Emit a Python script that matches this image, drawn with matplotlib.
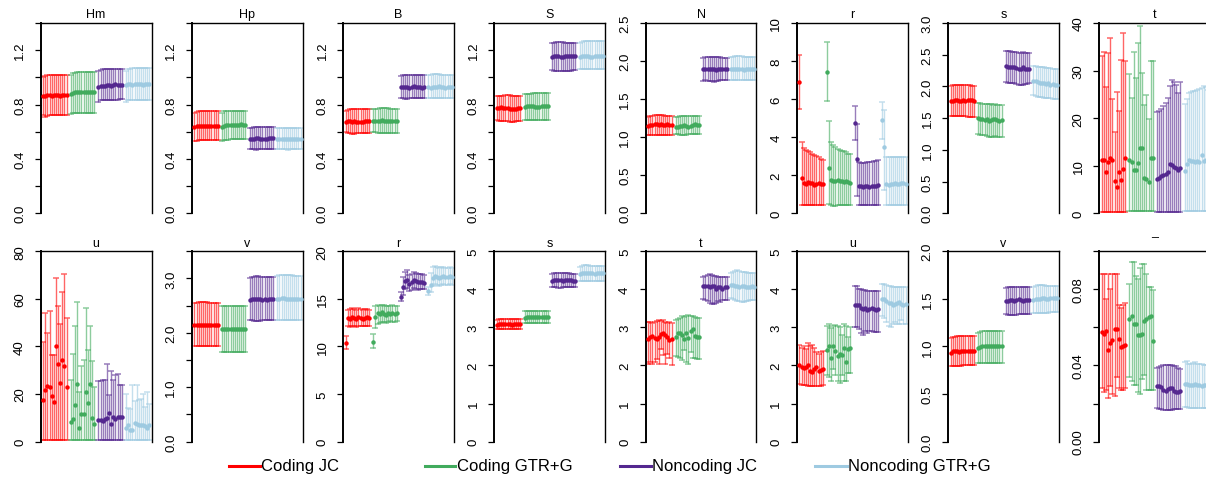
import numpy as np
import matplotlib
matplotlib.use('Agg')
import matplotlib.pyplot as plt
from matplotlib.lines import Line2D
from matplotlib.colors import to_rgba

plt.rcParams['font.family'] = ['Liberation Sans', 'DejaVu Sans']

# ---------------- data ----------------
series_names = ['Coding JC', 'Coding GTR+G', 'Noncoding JC', 'Noncoding GTR+G']
series_colors = ['#FF0000', '#41AB5D', '#54278F', '#9ECAE1']

panel_titles = ['Hm', 'Hp', 'B', 'S', 'N', 'r', 's', 't',
                'u', 'v', 'r', 's', 't', 'u', 'v', '\u00af']

hm_mid = [[0.86,0.865,0.87,0.87,0.865,0.87,0.87,0.87,0.865,0.87,0.87,0.87],
          [0.88,0.885,0.89,0.89,0.895,0.89,0.895,0.89,0.895,0.895,0.89,0.895],
          [0.93,0.94,0.94,0.935,0.945,0.945,0.94,0.945,0.95,0.945,0.945,0.945],
          [0.945,0.95,0.95,0.945,0.95,0.95,0.95,0.95,0.945,0.95,0.95,0.95]]
hm_lo = [[0.72,0.71,0.715,0.72,0.72,0.72,0.72,0.72,0.72,0.72,0.72,0.72],
         [0.73,0.735,0.735,0.74,0.74,0.74,0.74,0.74,0.74,0.74,0.74,0.74],
         [0.82,0.83,0.83,0.83,0.83,0.83,0.83,0.83,0.835,0.835,0.84,0.84],
         [0.82,0.83,0.83,0.83,0.83,0.83,0.83,0.83,0.83,0.83,0.835,0.835]]
hm_hi = [[1.0,1.01,1.02,1.02,1.02,1.02,1.02,1.02,1.02,1.02,1.02,1.02],
         [1.02,1.03,1.035,1.04,1.04,1.04,1.04,1.04,1.04,1.04,1.04,1.04],
         [1.05,1.055,1.06,1.06,1.065,1.065,1.065,1.065,1.065,1.065,1.065,1.065],
         [1.05,1.06,1.065,1.07,1.07,1.07,1.07,1.07,1.07,1.07,1.07,1.07]]

hp_mid = [[0.635,0.64,0.64,0.64,0.645,0.64,0.64,0.645,0.64,0.64,0.645,0.64],
          [0.635,0.645,0.65,0.65,0.65,0.65,0.65,0.65,0.65,0.655,0.65,0.65],
          [0.55,0.55,0.55,0.555,0.555,0.55,0.55,0.55,0.55,0.555,0.555,0.555],
          [0.55,0.55,0.55,0.545,0.55,0.55,0.55,0.55,0.55,0.55,0.55,0.55]]
hp_lo = [[0.53,0.535,0.54,0.54,0.54,0.54,0.54,0.54,0.54,0.54,0.54,0.54],
         [0.535,0.54,0.54,0.54,0.545,0.545,0.545,0.545,0.545,0.545,0.545,0.545],
         [0.47,0.47,0.47,0.465,0.47,0.47,0.47,0.47,0.47,0.47,0.47,0.47],
         [0.47,0.47,0.47,0.47,0.47,0.468,0.47,0.47,0.47,0.47,0.47,0.47]]
hp_hi = [[0.735,0.745,0.75,0.75,0.75,0.75,0.75,0.75,0.75,0.75,0.75,0.75],
         [0.74,0.75,0.755,0.755,0.755,0.755,0.755,0.755,0.755,0.755,0.755,0.755],
         [0.625,0.63,0.632,0.632,0.635,0.635,0.632,0.632,0.632,0.632,0.632,0.632],
         [0.625,0.628,0.628,0.628,0.628,0.628,0.628,0.628,0.628,0.628,0.628,0.628]]

b_mid = [[0.675,0.68,0.68,0.675,0.68,0.675,0.67,0.675,0.675,0.68,0.68,0.68],
         [0.68,0.68,0.68,0.68,0.685,0.68,0.68,0.68,0.68,0.68,0.68,0.68],
         [0.93,0.93,0.93,0.93,0.925,0.93,0.935,0.93,0.93,0.93,0.925,0.93],
         [0.93,0.925,0.93,0.93,0.93,0.935,0.93,0.93,0.925,0.93,0.93,0.93]]
b_lo = [[0.595,0.59,0.59,0.585,0.585,0.59,0.59,0.59,0.59,0.59,0.59,0.59],
        [0.595,0.595,0.59,0.59,0.59,0.59,0.59,0.59,0.59,0.59,0.59,0.59],
        [0.845,0.845,0.84,0.84,0.845,0.845,0.845,0.845,0.845,0.845,0.845,0.845],
        [0.845,0.845,0.845,0.845,0.845,0.845,0.845,0.845,0.845,0.85,0.85,0.85]]
b_hi = [[0.75,0.76,0.765,0.77,0.77,0.765,0.765,0.765,0.765,0.765,0.765,0.765],
        [0.765,0.77,0.77,0.775,0.775,0.775,0.775,0.775,0.77,0.77,0.77,0.77],
        [1.01,1.015,1.02,1.02,1.02,1.02,1.02,1.015,1.015,1.015,1.015,1.015],
        [1.015,1.02,1.025,1.025,1.025,1.025,1.02,1.02,1.02,1.02,1.02,1.02]]

S_mid = [[0.775,0.775,0.78,0.775,0.775,0.775,0.77,0.765,0.77,0.77,0.775,0.775],
         [0.785,0.79,0.79,0.79,0.79,0.785,0.785,0.785,0.79,0.79,0.79,0.79],
         [1.15,1.155,1.16,1.155,1.15,1.15,1.155,1.16,1.16,1.155,1.16,1.16],
         [1.15,1.155,1.16,1.16,1.155,1.15,1.15,1.155,1.16,1.16,1.16,1.16]]
S_lo = [[0.685,0.68,0.68,0.68,0.68,0.68,0.675,0.675,0.675,0.68,0.68,0.68],
        [0.69,0.69,0.69,0.69,0.685,0.685,0.685,0.69,0.69,0.69,0.69,0.69],
        [1.055,1.05,1.05,1.045,1.045,1.05,1.05,1.05,1.05,1.05,1.055,1.055],
        [1.06,1.06,1.06,1.06,1.06,1.06,1.06,1.06,1.06,1.06,1.065,1.065]]
S_hi = [[0.86,0.865,0.865,0.865,0.87,0.87,0.87,0.865,0.865,0.865,0.865,0.865],
        [0.875,0.875,0.88,0.88,0.885,0.885,0.885,0.885,0.885,0.885,0.885,0.885],
        [1.25,1.255,1.26,1.26,1.26,1.26,1.255,1.255,1.255,1.255,1.255,1.255],
        [1.255,1.26,1.265,1.27,1.27,1.265,1.265,1.265,1.265,1.265,1.265,1.265]]

n_mid = [[1.15,1.16,1.16,1.17,1.17,1.16,1.17,1.16,1.16,1.17,1.16,1.16],
         [1.14,1.14,1.15,1.15,1.16,1.15,1.14,1.15,1.16,1.17,1.16,1.16],
         [1.89,1.90,1.90,1.89,1.90,1.90,1.88,1.89,1.90,1.89,1.90,1.90],
         [1.89,1.90,1.90,1.89,1.89,1.90,1.88,1.89,1.90,1.89,1.90,1.90]]
n_lo = [[1.03,1.03,1.035,1.035,1.035,1.035,1.035,1.035,1.035,1.035,1.035,1.035],
        [1.04,1.04,1.035,1.03,1.03,1.035,1.04,1.04,1.04,1.04,1.04,1.04],
        [1.74,1.745,1.74,1.74,1.74,1.73,1.735,1.74,1.745,1.745,1.745,1.745],
        [1.75,1.75,1.75,1.75,1.75,1.75,1.75,1.75,1.755,1.755,1.755,1.755]]
n_hi = [[1.27,1.28,1.28,1.285,1.285,1.285,1.285,1.285,1.28,1.28,1.28,1.28],
        [1.265,1.27,1.275,1.275,1.275,1.275,1.275,1.275,1.275,1.275,1.275,1.275],
        [2.04,2.05,2.05,2.055,2.055,2.05,2.05,2.05,2.05,2.045,2.045,2.045],
        [2.05,2.055,2.06,2.06,2.06,2.06,2.055,2.055,2.05,2.05,2.05,2.05]]

r1_mid = [[6.9,1.85,1.6,1.55,1.65,1.6,1.6,1.5,1.55,1.6,1.55,1.55],
          [7.45,2.4,1.75,1.7,1.7,1.75,1.7,1.7,1.65,1.7,1.65,1.6],
          [4.75,2.85,1.45,1.45,1.4,1.45,1.45,1.4,1.45,1.45,1.45,1.5],
          [4.9,3.5,1.55,1.5,1.55,1.55,1.6,1.55,1.55,1.6,1.6,1.55]]
r1_lo = [[5.5,0.45,0.45,0.45,0.45,0.45,0.45,0.45,0.45,0.45,0.45,0.45],
         [5.9,0.5,0.45,0.4,0.4,0.45,0.45,0.45,0.45,0.45,0.45,0.45],
         [3.85,0.9,0.45,0.45,0.45,0.45,0.45,0.45,0.45,0.45,0.45,0.45],
         [3.9,1.25,0.45,0.45,0.45,0.45,0.45,0.45,0.45,0.45,0.45,0.45]]
r1_hi = [[8.3,3.75,3.45,3.35,3.3,3.2,3.1,3.05,3.0,2.95,2.85,2.8],
         [9.0,4.85,3.75,3.6,3.5,3.4,3.35,3.3,3.25,3.2,3.1,3.1],
         [5.65,4.7,2.7,2.65,2.65,2.65,2.7,2.7,2.7,2.75,2.75,2.8],
         [5.85,5.45,2.95,2.95,2.95,2.95,2.95,2.95,2.95,2.95,2.95,2.95]]

s1_mid = [[1.77,1.77,1.78,1.78,1.77,1.77,1.78,1.77,1.78,1.79,1.78,1.77],
          [1.50,1.49,1.48,1.47,1.48,1.46,1.47,1.48,1.49,1.47,1.46,1.47],
          [2.32,2.31,2.30,2.31,2.30,2.29,2.27,2.28,2.30,2.28,2.27,2.27],
          [2.09,2.08,2.07,2.06,2.06,2.05,2.04,2.05,2.03,2.04,2.03,2.03]]
s1_lo = [[1.54,1.53,1.53,1.53,1.53,1.53,1.53,1.53,1.52,1.52,1.52,1.52],
         [1.25,1.24,1.24,1.23,1.22,1.21,1.21,1.21,1.22,1.21,1.21,1.21],
         [2.07,2.06,2.06,2.05,2.05,2.04,2.02,2.02,2.03,2.04,2.04,2.05],
         [1.86,1.85,1.84,1.83,1.83,1.82,1.81,1.81,1.81,1.80,1.80,1.80]]
s1_hi = [[2.01,2.02,2.02,2.02,2.03,2.02,2.02,2.03,2.02,2.02,2.01,2.01],
         [1.74,1.74,1.73,1.72,1.73,1.72,1.72,1.71,1.72,1.71,1.70,1.70],
         [2.56,2.56,2.56,2.55,2.55,2.54,2.52,2.53,2.54,2.53,2.52,2.52],
         [2.33,2.32,2.31,2.31,2.30,2.30,2.29,2.29,2.29,2.28,2.28,2.28]]

t1_mid = [[11.1,11.1,8.6,10.7,11.6,11.1,6.7,5.6,8.6,6.9,9.3,11.6],
          [11.1,10.7,9.0,9.1,10.5,13.7,13.7,7.5,7.2,6.6,11.6,11.7],
          [7.3,7.5,7.8,8.0,8.3,8.6,10.3,10.1,9.8,9.5,9.0,9.5],
          [8.8,10.3,11.2,10.9,11.0,10.8,10.9,10.7,12.3,11.0,11.2,11.0]]
t1_lo = [[0.3,0.3,0.3,0.3,0.3,0.3,0.3,0.3,0.3,0.3,0.3,0.3],
         [0.5,0.5,0.5,0.5,0.5,0.5,0.5,0.5,0.5,0.5,0.5,0.5],
         [0.3,0.3,0.3,0.3,0.3,0.3,0.3,0.3,0.3,0.3,0.3,0.3],
         [0.4,0.4,0.4,0.4,0.4,0.4,0.4,0.4,0.4,0.4,0.4,0.4]]
t1_hi = [[33.0,33.8,26.5,33.6,36.8,24.0,17.0,25.6,21.6,32.2,37.9,32.0],
         [29.3,24.2,33.8,28.5,35.8,39.4,29.5,22.8,24.8,19.9,32.0,32.1],
         [21.3,21.6,22.0,22.5,23.2,24.2,26.8,28.0,27.6,27.0,25.3,27.7],
         [23.0,24.0,25.2,25.5,25.7,25.8,26.0,26.2,26.4,26.7,26.5,26.0]]

u1_mid = [[17.4,21.9,23.4,22.9,19.2,16.8,40.0,32.8,24.7,34.5,31.6,23.1],
          [8.3,9.5,15.2,24.1,5.8,11.6,11.8,21.0,16.4,24.3,10.0,7.6],
          [9.0,9.1,8.7,9.3,10.0,12.0,7.6,10.5,9.5,10.4,10.2,10.2],
          [5.6,6.8,4.9,4.7,7.8,7.4,7.0,6.8,7.1,6.6,5.6,7.0]]
u1_lo = [[0.5,0.5,0.5,0.5,0.5,0.5,0.5,0.5,0.5,0.5,0.5,0.5],
         [0.5,0.5,0.5,0.5,0.5,0.5,0.5,0.5,0.5,0.5,0.5,0.5],
         [0.5,0.5,0.5,0.5,0.5,0.5,0.5,0.5,0.5,0.5,0.5,0.5],
         [0.5,0.5,0.5,0.5,0.5,0.5,0.5,0.5,0.5,0.5,0.5,0.5]]
u1_hi = [[41.7,53.9,45.6,55.0,36.5,36.5,68.6,57.2,49.6,63.0,70.5,52.0],
         [26.0,37.0,48.6,58.8,21.0,31.6,34.2,56.3,38.6,48.6,33.7,23.0],
         [25.5,25.6,26.0,26.0,32.5,19.5,29.8,26.0,28.0,28.5,23.6,23.6],
         [20.0,14.0,13.7,24.0,17.0,24.0,17.6,18.0,20.2,14.5,21.0,16.0]]

v1_mid = [[2.14,2.15,2.15,2.15,2.14,2.15,2.14,2.14,2.15,2.15,2.14,2.15],
          [2.07,2.07,2.07,2.07,2.07,2.08,2.07,2.07,2.07,2.07,2.07,2.07],
          [2.61,2.62,2.63,2.63,2.62,2.62,2.61,2.62,2.61,2.62,2.62,2.62],
          [2.62,2.63,2.64,2.64,2.63,2.62,2.62,2.62,2.63,2.63,2.63,2.63]]
v1_lo = [[1.75,1.75,1.75,1.75,1.75,1.75,1.75,1.75,1.75,1.75,1.75,1.75],
         [1.65,1.65,1.65,1.65,1.64,1.64,1.64,1.65,1.65,1.65,1.65,1.65],
         [2.23,2.23,2.22,2.22,2.22,2.22,2.23,2.23,2.23,2.23,2.23,2.23],
         [2.24,2.24,2.24,2.23,2.23,2.23,2.23,2.23,2.24,2.24,2.24,2.24]]
v1_hi = [[2.55,2.55,2.56,2.56,2.56,2.56,2.56,2.55,2.55,2.55,2.55,2.55],
         [2.49,2.50,2.50,2.50,2.50,2.50,2.50,2.50,2.50,2.50,2.50,2.50],
         [3.00,3.02,3.03,3.04,3.04,3.03,3.02,3.02,3.02,3.02,3.02,3.02],
         [3.04,3.06,3.07,3.07,3.07,3.06,3.06,3.06,3.05,3.05,3.05,3.05]]

r2_mid = [[10.4,13.0,12.9,13.1,13.0,12.9,13.1,13.0,12.9,13.0,13.1,13.0],
          [10.5,13.1,13.5,13.4,13.6,13.4,13.3,13.5,13.4,13.5,13.4,13.5],
          [15.2,16.2,16.9,17.0,16.6,16.8,17.0,16.9,16.8,16.8,16.8,16.7],
          [15.8,16.5,17.2,17.4,17.3,17.2,17.3,17.4,17.3,17.3,17.4,17.3]]
r2_lo = [[9.7,12.1,12.0,12.1,12.2,12.0,12.1,12.2,12.1,12.2,12.1,12.2],
         [9.8,11.9,12.4,12.5,12.6,12.6,12.5,12.6,12.7,12.6,12.6,12.7],
         [14.8,15.4,16.0,16.1,15.8,15.9,16.1,16.0,15.9,16.0,16.0,16.0],
         [15.4,15.7,16.4,16.6,16.5,16.4,16.5,16.6,16.5,16.5,16.6,16.5]]
r2_hi = [[11.1,13.8,13.9,14.0,13.9,13.8,14.0,13.9,13.8,13.9,13.9,13.8],
         [11.3,14.3,14.4,14.3,14.4,14.4,14.2,14.3,14.3,14.4,14.3,14.2],
         [15.7,17.3,17.8,18.0,17.5,17.6,17.8,17.7,17.6,17.6,17.6,17.5],
         [16.2,17.7,18.3,18.5,18.3,18.2,18.3,18.4,18.2,18.2,18.3,18.2]]

s2_mid = [[3.07,3.08,3.09,3.08,3.08,3.09,3.08,3.07,3.08,3.09,3.08,3.08],
          [3.26,3.27,3.28,3.27,3.28,3.28,3.27,3.27,3.28,3.28,3.27,3.27],
          [4.23,4.24,4.25,4.24,4.24,4.23,4.24,4.25,4.24,4.24,4.23,4.23],
          [4.40,4.42,4.43,4.42,4.42,4.43,4.42,4.41,4.42,4.43,4.42,4.42]]
s2_lo = [[2.96,2.96,2.95,2.95,2.96,2.96,2.96,2.95,2.95,2.96,2.96,2.96],
         [3.12,3.12,3.11,3.11,3.12,3.12,3.12,3.12,3.11,3.12,3.12,3.12],
         [4.06,4.05,4.05,4.04,4.04,4.05,4.05,4.05,4.05,4.06,4.06,4.06],
         [4.23,4.22,4.22,4.21,4.21,4.22,4.22,4.22,4.22,4.23,4.23,4.23]]
s2_hi = [[3.20,3.21,3.22,3.22,3.22,3.22,3.21,3.21,3.21,3.21,3.21,3.21],
         [3.42,3.43,3.43,3.44,3.44,3.44,3.43,3.43,3.43,3.43,3.43,3.43],
         [4.41,4.42,4.43,4.44,4.44,4.43,4.42,4.42,4.42,4.41,4.41,4.41],
         [4.60,4.62,4.63,4.64,4.63,4.62,4.62,4.61,4.61,4.61,4.61,4.61]]

t2_mid = [[2.70,2.75,2.78,2.72,2.70,2.75,2.82,2.85,2.80,2.75,2.68,2.70],
          [2.75,2.85,2.85,2.80,2.70,2.85,2.72,2.90,2.95,2.78,2.75,2.75],
          [4.10,4.10,4.08,4.05,4.10,4.08,4.00,4.05,4.05,4.02,4.05,4.06],
          [4.12,4.12,4.10,4.08,4.05,4.08,4.10,4.06,4.05,4.06,4.08,4.05]]
t2_lo = [[2.05,2.08,2.05,2.10,2.18,2.05,2.42,2.28,2.05,2.30,2.20,2.02],
         [2.25,2.22,2.20,2.15,2.40,2.10,2.05,2.35,2.20,2.20,2.18,2.18],
         [3.75,3.72,3.70,3.65,3.62,3.62,3.65,3.70,3.68,3.72,3.72,3.72],
         [3.78,3.75,3.72,3.70,3.70,3.68,3.68,3.70,3.70,3.72,3.72,3.72]]
t2_hi = [[3.15,3.15,3.12,3.15,3.18,3.20,3.18,3.20,3.15,3.12,3.15,3.12],
         [3.20,3.22,3.25,3.30,3.28,3.30,3.32,3.30,3.30,3.28,3.25,3.25],
         [4.32,4.35,4.38,4.40,4.38,4.36,4.35,4.33,4.32,4.32,4.32,4.32],
         [4.42,4.45,4.48,4.50,4.48,4.46,4.45,4.45,4.44,4.42,4.42,4.42]]

u2_mid = [[2.00,1.95,1.93,1.95,2.00,1.85,1.83,1.90,1.95,1.85,1.88,1.90],
          [2.40,2.50,2.20,2.50,2.38,2.25,2.30,2.28,2.45,2.10,2.42,2.47],
          [3.60,3.60,3.58,3.50,3.48,3.52,3.45,3.48,3.50,3.48,3.47,3.48],
          [3.75,3.75,3.70,3.63,3.65,3.60,3.62,3.65,3.68,3.62,3.60,3.62]]
u2_lo = [[1.52,1.50,1.50,1.48,1.47,1.47,1.45,1.46,1.47,1.46,1.47,1.48],
         [1.75,1.70,1.60,1.90,1.75,1.60,1.55,1.75,1.60,1.60,1.80,1.80],
         [3.00,3.00,2.95,2.85,2.80,2.90,2.85,2.90,2.90,2.88,2.88,2.88],
         [3.30,3.25,3.15,3.05,3.00,3.10,3.15,3.08,3.10,3.20,3.08,3.10]]
u2_hi = [[2.55,2.45,2.52,2.43,2.60,2.50,2.55,2.45,2.35,2.30,2.35,2.38],
         [3.05,3.10,2.98,3.05,3.07,3.05,3.00,2.80,3.10,3.05,2.75,3.00],
         [4.08,4.08,4.00,4.00,3.98,3.98,3.97,3.96,3.95,3.95,3.95,3.95],
         [4.15,4.15,4.12,4.10,4.08,4.07,4.05,4.05,4.05,4.05,4.05,4.05]]

v2_mid = [[0.93,0.95,0.95,0.95,0.94,0.95,0.95,0.95,0.95,0.95,0.95,0.95],
          [0.98,0.99,1.0,1.0,1.0,1.0,1.0,1.0,1.0,1.0,1.0,1.0],
          [1.48,1.48,1.49,1.49,1.48,1.49,1.50,1.49,1.48,1.49,1.49,1.49],
          [1.49,1.50,1.50,1.50,1.51,1.51,1.50,1.50,1.51,1.51,1.51,1.51]]
v2_lo = [[0.79,0.79,0.79,0.79,0.79,0.79,0.80,0.80,0.80,0.80,0.80,0.80],
         [0.83,0.83,0.83,0.83,0.83,0.83,0.83,0.83,0.83,0.83,0.83,0.83],
         [1.34,1.33,1.33,1.33,1.33,1.33,1.34,1.34,1.34,1.34,1.34,1.34],
         [1.35,1.35,1.35,1.35,1.35,1.35,1.35,1.35,1.36,1.36,1.36,1.36]]
v2_hi = [[1.09,1.10,1.10,1.11,1.11,1.11,1.11,1.11,1.11,1.11,1.11,1.11],
         [1.14,1.15,1.16,1.16,1.16,1.16,1.16,1.16,1.16,1.16,1.16,1.16],
         [1.61,1.62,1.63,1.63,1.63,1.63,1.62,1.62,1.62,1.62,1.62,1.62],
         [1.63,1.64,1.65,1.65,1.65,1.65,1.64,1.64,1.64,1.64,1.64,1.64]]

x_mid = [[0.0575,0.0565,0.058,0.048,0.052,0.0535,0.059,0.059,0.0539,0.0495,0.0503,0.0507],
         [0.0645,0.066,0.0618,0.062,0.056,0.056,0.0565,0.0633,0.0645,0.0653,0.066,0.053],
         [0.029,0.029,0.0285,0.027,0.0265,0.0275,0.028,0.028,0.0265,0.026,0.026,0.0265],
         [0.0305,0.0302,0.030,0.0298,0.030,0.0302,0.030,0.0295,0.029,0.0298,0.030,0.0295]]
x_lo = [[0.028,0.026,0.027,0.023,0.029,0.025,0.024,0.034,0.028,0.027,0.027,0.028],
        [0.034,0.032,0.030,0.030,0.026,0.025,0.033,0.035,0.027,0.027,0.027,0.027],
        [0.0175,0.017,0.017,0.0168,0.0165,0.0165,0.0165,0.0168,0.017,0.017,0.017,0.017],
        [0.018,0.018,0.0178,0.0178,0.0178,0.0175,0.0175,0.0175,0.0175,0.0175,0.0175,0.0175]]
x_hi = [[0.088,0.088,0.075,0.088,0.080,0.088,0.088,0.088,0.072,0.070,0.072,0.073],
        [0.083,0.0945,0.0945,0.087,0.0855,0.091,0.0935,0.0935,0.088,0.081,0.081,0.0795],
        [0.0385,0.039,0.0395,0.040,0.040,0.0405,0.040,0.040,0.0395,0.0395,0.0385,0.038],
        [0.042,0.0425,0.041,0.041,0.0415,0.042,0.041,0.041,0.041,0.0405,0.0405,0.040]]

panel_mid = [hm_mid, hp_mid, b_mid, S_mid, n_mid, r1_mid, s1_mid, t1_mid,
             u1_mid, v1_mid, r2_mid, s2_mid, t2_mid, u2_mid, v2_mid, x_mid]
panel_lo = [hm_lo, hp_lo, b_lo, S_lo, n_lo, r1_lo, s1_lo, t1_lo,
            u1_lo, v1_lo, r2_lo, s2_lo, t2_lo, u2_lo, v2_lo, x_lo]
panel_hi = [hm_hi, hp_hi, b_hi, S_hi, n_hi, r1_hi, s1_hi, t1_hi,
            u1_hi, v1_hi, r2_hi, s2_hi, t2_hi, u2_hi, v2_hi, x_hi]

# y axis: (ymax, tick step, label every n-th tick, label format)
panel_yaxis = [(1.4, 0.2, 2, '{:.1f}'), (1.4, 0.2, 2, '{:.1f}'), (1.4, 0.2, 2, '{:.1f}'),
               (1.4, 0.2, 2, '{:.1f}'), (2.5, 0.5, 1, '{:.1f}'), (10, 2, 1, '{:.0f}'),
               (3.0, 0.5, 1, '{:.1f}'), (40, 10, 1, '{:.0f}'),
               (80, 20, 1, '{:.0f}'), (3.5, 0.5, 2, '{:.1f}'), (20, 5, 1, '{:.0f}'),
               (5, 1, 1, '{:.0f}'), (5, 1, 1, '{:.0f}'), (5, 1, 1, '{:.0f}'),
               (2.0, 0.5, 1, '{:.1f}'), (0.1, 0.02, 2, '{:.2f}')]

# ---------------- layout ----------------
W, H = 1206, 485
fig = plt.figure(figsize=(W / 100, H / 100), dpi=100)

col_left0, col_step, ax_w = 40.7, 151.23, 110.8
row_top, ax_h = [24.0, 252.3], 190.3
n_rep = 12

for k in range(16):
    r, c = divmod(k, 8)
    left = col_left0 + c * col_step
    top = row_top[r]
    ax = fig.add_axes([left / W, 1 - (top + ax_h) / H, ax_w / W, ax_h / H])
    for g in range(4):
        x = np.arange(n_rep) + g * (n_rep + 1) + 1
        m = np.array(panel_mid[k][g])
        lo = np.array(panel_lo[k][g])
        hi = np.array(panel_hi[k][g])
        col = series_colors[g]
        cont = ax.errorbar(x, m, yerr=[m - lo, hi - m], fmt='none',
                           ecolor=to_rgba(col, 0.6), elinewidth=1.0,
                           capsize=2.5, capthick=1.1)
        for ch in cont.get_children():
            ch.set_clip_on(False)
        ax.plot(x, m, 'o', ms=3.2, color=col, mec='none', clip_on=False, zorder=3)
    ymax, step, every, fmt = panel_yaxis[k]
    ax.set_xlim(-0.2, 52.0)
    ax.set_ylim(0, ymax)
    ticks = np.arange(0, ymax + step / 2, step)
    ax.set_yticks(ticks)
    ax.set_yticklabels([fmt.format(t) if i % every == 0 else '' for i, t in enumerate(ticks)],
                       rotation=90, va='center')
    ax.set_xticks([])
    ax.tick_params(axis='y', length=4.5, width=0.9, pad=6, labelsize=9.5)
    ax.spines['bottom'].set_visible(False)
    for sp in ('top', 'right'):
        ax.spines[sp].set_linewidth(1.0)
    ax.spines['left'].set_linewidth(1.4)
    ax.set_title(panel_titles[k], fontsize=9, pad=4)

# legend
leg_x = [229, 424.5, 620, 815.5]
leg_y = 467
for g in range(4):
    x0 = leg_x[g]
    fig.add_artist(Line2D([x0 / W, (x0 + 31) / W], [1 - leg_y / H, 1 - leg_y / H],
                          transform=fig.transFigure, color=series_colors[g], lw=2.2))
    fig.text((x0 + 32) / W, 1 - leg_y / H, series_names[g], fontsize=12,
             va='center', ha='left')

fig.savefig('out.png', dpi=100)
